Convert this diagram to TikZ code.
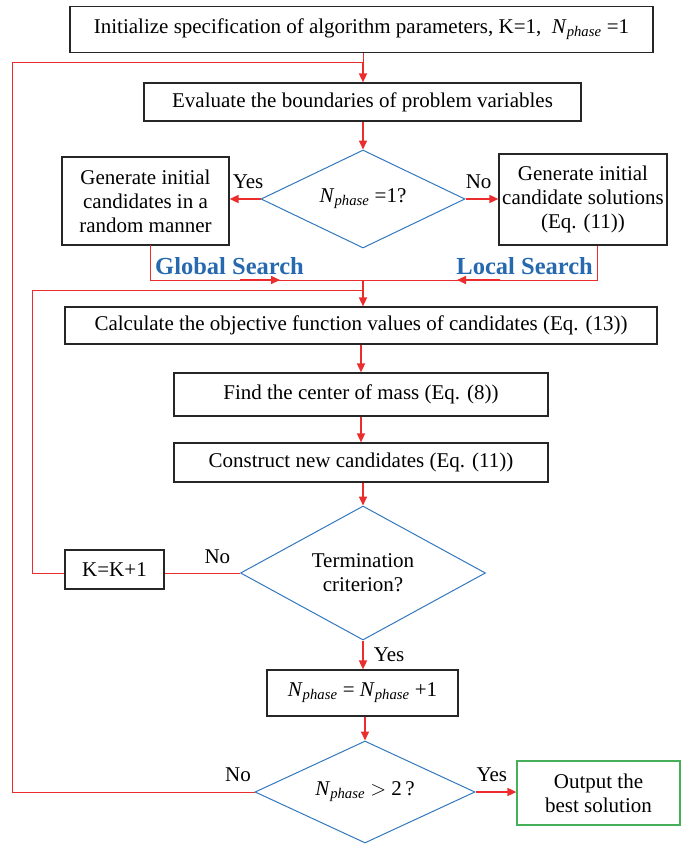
\documentclass[tikz,border=0pt]{standalone}
\usepackage{fontspec}
\setmainfont{Liberation Serif}
\usetikzlibrary{shapes.geometric,arrows.meta}
\definecolor{lred}{RGB}{235,45,45}
\definecolor{dblue}{RGB}{50,120,190}
\definecolor{sblue}{RGB}{38,105,175}
\definecolor{gbox}{RGB}{70,175,90}
\newcommand{\Nph}{\textit{N}\textsubscript{\textit{phase}}}
\begin{document}
\begin{tikzpicture}[x=1pt,y=-1pt,
  font=\fontsize{21}{24}\selectfont,
  box/.style={draw=black!85, line width=1.2pt, align=center, inner sep=0pt},
  dec/.style={diamond, draw=dblue, line width=1pt, inner sep=0pt, align=center},
  flow/.style={draw=lred, line width=1.6pt, -{Triangle[length=9pt,width=8pt]}},
  lp/.style={draw=lred, line width=1pt},
  midarr/.style={draw=lred, line width=1.6pt},
  srch/.style={text=sblue, font=\fontsize{24.5}{28}\selectfont\bfseries, inner sep=0pt},
  lab/.style={inner sep=0pt}]
\useasboundingbox (0,0) rectangle (682,844);

\node[box, minimum width=583, minimum height=46] (init) at (361.5,29.5) {Initialize specification of algorithm parameters, K=1,\ \ \Nph\ =1};
\node[box, minimum width=437, minimum height=38] (eval) at (362.5,102) {Evaluate the boundaries of problem variables};
\node[dec, aspect=2.08, minimum width=204, minimum height=98] (d1) at (363,199) {\Nph\ =1?};
\node[box, minimum width=167, minimum height=88] (gen1) at (145.5,201) {Generate initial\\candidates in a\\random manner};
\node[box, minimum width=168, minimum height=91] (gen2) at (583,199.5) {Generate initial\\candidate solutions\\(Eq. (11))};
\node[box, minimum width=592, minimum height=37] (calc) at (361,325.5) {Calculate the objective function values of candidates (Eq. (13))};
\node[box, minimum width=374, minimum height=43] (mass) at (361,394.5) {Find the center of mass (Eq. (8))};
\node[box, minimum width=374, minimum height=39] (cons) at (361,462.5) {Construct new candidates (Eq. (11))};
\node[dec, aspect=1.83, minimum width=245, minimum height=134] (d2) at (363,573) {Termination\\criterion?};
\node[box, minimum width=99, minimum height=39] (kk) at (114.5,569.5) {K=K+1};
\node[box, minimum width=191, minimum height=46] (inc) at (362.5,693) {\Nph\ = \Nph\ +1};
\node[dec, aspect=2.16, minimum width=220, minimum height=102] (d3) at (365,792) {\Nph\ $>$ 2\,?};
\node[box, draw=gbox, minimum width=163, minimum height=64] (out) at (598.5,793) {Output the\\best solution};

% coordinates
\coordinate (j1) at (363,62);
\coordinate (j2) at (363,280);
\coordinate (j3) at (363,290.5);
\coordinate (lx1) at (12,62);
\coordinate (lx2) at (32.5,290.5);

% main flow
\draw[lp] (init.south -| j1) -- (j1);
\draw[flow] (j1) -- (eval.north -| j1);
\draw[flow] (eval.south -| d1.north) -- (d1.north);
\draw[flow] (d1.west) -- (gen1.east |- d1.west) node[lab, pos=0.4, above=9pt] {Yes};
\draw[flow] (d1.east) -- (gen2.west |- d1.east) node[lab, pos=0.4, above=9pt] {No};

% search branches
\draw[lp] (150,245) -- (150,280) -- (j2);
\draw[lp] (597,245.5) -- (597,280) -- (j2);
\draw[midarr, -{Triangle[length=9pt,width=8pt]}] (240,280) -- (280,280);
\draw[midarr, -{Triangle[length=9pt,width=8pt]}] (500,280) -- (457,280);
\node[srch, anchor=base west] (gs) at (155,274) {Global Search};
\node[srch, anchor=base east] (ls) at (593,274) {Local Search};
\draw[flow] (j2) -- (calc.north -| j2);

\draw[flow] (calc.south -| mass.north) -- (mass.north);
\draw[flow] (mass.south) -- (cons.north);
\draw[flow] (cons.south -| d2.north) -- (d2.north);

% termination
\draw[lp] (d2.west) -- (kk.east |- d2.west) node[lab, pos=0.3, above=9pt] {No};
\draw[lp] (kk.west |- d2.west) -- (lx2 |- d2.west) -- (lx2) -- (j3);
\draw[flow] (d2.south) -- (inc.north -| d2.south) node[lab, midway, right=10pt] {Yes};
\draw[flow] (inc.south -| d3.north) -- (d3.north);

% final decision
\draw[flow] (d3.east) -- (out.west |- d3.east) node[lab, pos=0.4, above=10pt] {Yes};
\draw[lp] (d3.west) -- (lx1 |- d3.west) -- (lx1) -- (j1);
\node[lab] (nolab) at (238,775) {No};
\end{tikzpicture}
\end{document}
